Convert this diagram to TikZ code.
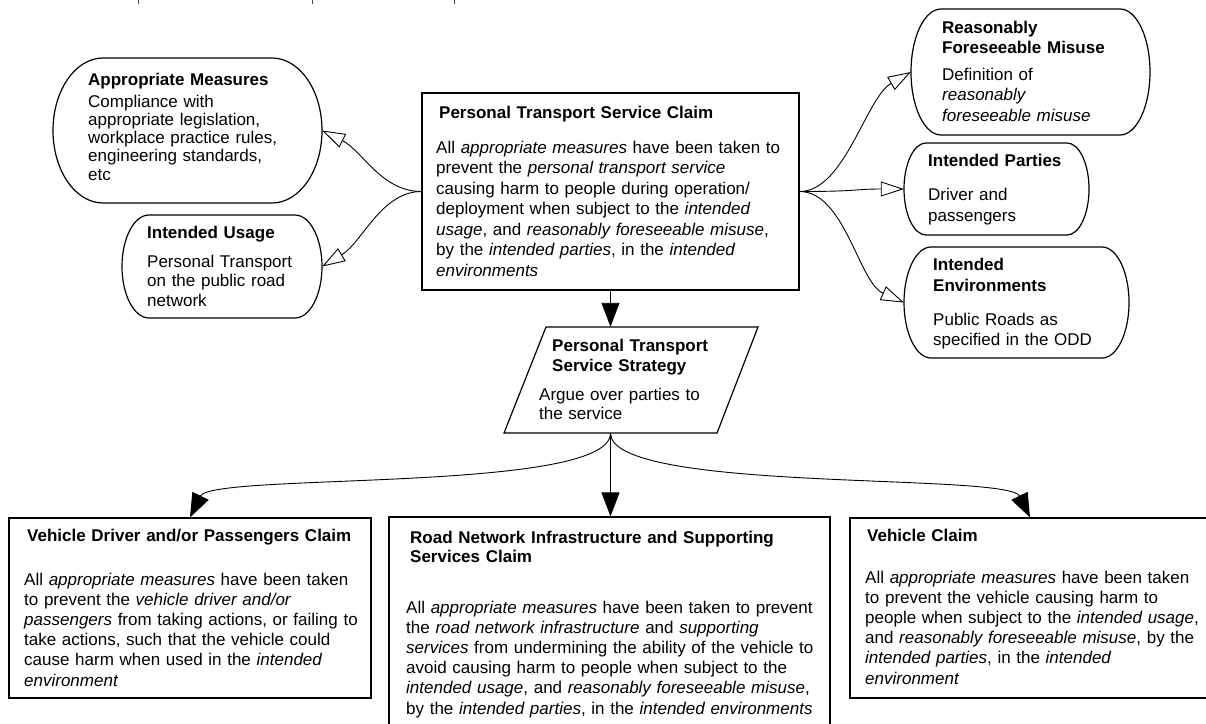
\documentclass[tikz,border=0pt]{standalone}
\usepackage{fontspec}
\setmainfont{Liberation Sans}
\usetikzlibrary{arrows.meta,fit}

% context element: invisible frame node plus a rounded-end outline
% #1 name, #2 left, #3 top, #4 right, #5 bottom, #6 horizontal bulge of the ends
\newcommand\ctxnode[6]{%
  \node[ctxzone, fit={(#2,#3) (#4,#5)}] (#1) {};
  \draw[shapeline] ({#2+#6},#3) -- ({#4-#6},#3)
    arc[start angle=-90, end angle=90, x radius=#6, y radius={(#5-#3)/2}]
    -- ({#2+#6},#5)
    arc[start angle=90, end angle=270, x radius=#6, y radius={(#5-#3)/2}]
    -- cycle;}

\begin{document}
\begin{tikzpicture}[x=1pt, y=-1pt,
  gbox/.style={draw, line width=1.2pt, inner sep=0pt},
  ctxzone/.style={draw=none, inner sep=0pt},
  shapeline/.style={line width=1.2pt},
  solidhead/.style={line width=0.9pt, -{Triangle[length=24pt, width=18pt]}},
  openhead/.style={line width=0.9pt, -{Triangle[open, length=23pt, width=15pt, fill=white]}},
  hdtext/.style={anchor=base west, inner sep=0pt, text width=470pt, align=left,
    font=\bfseries\fontsize{17}{20}\selectfont},
  bdtext/.style={anchor=base west, inner sep=0pt, text width=470pt, align=left,
    font=\fontsize{17}{20.2}\selectfont},
]
\fill[white] (0,0) rectangle (1206,723);
\useasboundingbox (0,0) rectangle (1206,723);

% stray ticks along the top edge
\draw[line width=0.8pt, black!70] (138,0) -- (138,3.5);
\draw[line width=0.8pt, black!70] (312,0) -- (312,3.5);
\draw[line width=0.8pt, black!70] (454,0) -- (454,3.5);

% ---- goals and strategy ----
\node[gbox, fit={(422,93) (799,290)}] (main) {};
\node[ctxzone, fit={(504,327) (758,433)}] (strat) {};
\draw[shapeline] (546,327) -- (758,327) -- (717,433) -- (504,433) -- cycle;

\node[gbox, fit={(9,518) (371,698)}] (vd) {};
\node[gbox, fit={(389,517) (830,745)}] (rn) {};
\node[gbox, fit={(850,518) (1210,698)}] (vc) {};

% ---- context elements ----
\ctxnode{am}{53}{58}{322}{203}{50}
\ctxnode{iu}{122}{215}{322}{318}{27}
\ctxnode{rfm}{911}{9}{1150}{135}{30}
\ctxnode{ip}{904}{143}{1089}{235}{22}
\ctxnode{ie}{904}{247}{1129}{358}{27}

% ---- connectors ----
\draw[openhead] (main.west) .. controls +(-40,0) and +(40,20) .. (am.east);
\draw[openhead] (main.west) .. controls +(-40,0) and +(40,-24) .. (iu.east);
\draw[openhead] (main.east) .. controls +(45,0) and +(-45,26) .. (rfm.west);
\draw[openhead] (main.east) .. controls +(60,0) and +(-50,0) .. (ip.west);
\draw[openhead] (main.east) .. controls +(45,0) and +(-45,-20) .. (ie.west);

\draw[solidhead] (main.south) -- (main.south |- strat.north);
\coordinate (sb) at (main.south |- strat.south);
\draw[solidhead] (sb) -- (sb |- rn.north);
\draw[solidhead] (sb) .. controls +(0,60) and +(22,-45) .. (vd.north);
\draw[solidhead] (sb) .. controls +(0,60) and +(-22,-45) .. (vc.north);

% ---- texts ----
\node[hdtext] (main-t) at (439,118) {Personal Transport Service Claim};
\node[bdtext, font=\fontsize{17}{20.5}\selectfont] (main-b) at (436,153) {All \textit{appropriate measures} have been taken to\\
prevent the \textit{personal transport service}\\
causing harm to people during operation/\\
deployment when subject to the \textit{intended}\\
\textit{usage}, and \textit{reasonably foreseeable misuse},\\
by the \textit{intended parties}, in the \textit{intended}\\
\textit{environments}};

\node[hdtext] (am-t) at (88,85) {Appropriate Measures};
\node[bdtext, font=\fontsize{17}{18.3}\selectfont] (am-b) at (88,107) {Compliance with\\
appropriate legislation,\\
workplace practice rules,\\
engineering standards,\\
etc};

\node[hdtext] (iu-t) at (147,238) {Intended Usage};
\node[bdtext, font=\fontsize{17}{19.5}\selectfont] (iu-b) at (147,267) {Personal Transport\\
on the public road\\
network};

\node[hdtext] (rfm-t) at (942,33) {Reasonably\\Foreseeable Misuse};
\node[bdtext, font=\fontsize{17}{20.5}\selectfont] (rfm-b) at (942,80) {Definition of\\
\textit{reasonably}\\
\textit{foreseeable misuse}};

\node[hdtext] (ip-t) at (928,166) {Intended Parties};
\node[bdtext, font=\fontsize{17}{21}\selectfont] (ip-b) at (928,200) {Driver and\\passengers};

\node[hdtext, font=\bfseries\fontsize{17}{21}\selectfont] (ie-t) at (933,270) {Intended\\Environments};
\node[bdtext] (ie-b) at (933,325) {Public Roads as\\specified in the ODD};

\node[hdtext] (strat-t) at (552,351) {Personal Transport\\Service Strategy};
\node[bdtext, font=\fontsize{17}{19}\selectfont] (strat-b) at (539,400) {Argue over parties to\\the service};

\node[hdtext] (vd-t) at (27,541) {Vehicle Driver and/or Passengers Claim};
\node[bdtext] (vd-b) at (24,585) {All \textit{appropriate measures} have been taken\\
to prevent the \textit{vehicle driver and/or}\\
\textit{passengers} from taking actions, or failing to\\
take actions, such that the vehicle could\\
cause harm when used in the \textit{intended}\\
\textit{environment}};

\node[hdtext, font=\bfseries\fontsize{17}{19}\selectfont] (rn-t) at (410,543) {Road Network Infrastructure and Supporting\\Services Claim};
\node[bdtext] (rn-b) at (406,613) {All \textit{appropriate measures} have been taken to prevent\\
the \textit{road network infrastructure} and \textit{supporting}\\
\textit{services} from undermining the ability of the vehicle to\\
avoid causing harm to people when subject to the\\
\textit{intended usage}, and \textit{reasonably foreseeable misuse},\\
by the \textit{intended parties}, in the \textit{intended environments}};

\node[hdtext] (vc-t) at (867,541) {Vehicle Claim};
\node[bdtext] (vc-b) at (865,583) {All \textit{appropriate measures} have been taken\\
to prevent the vehicle causing harm to\\
people when subject to the \textit{intended usage},\\
and \textit{reasonably foreseeable misuse}, by the\\
\textit{intended parties}, in the \textit{intended}\\
\textit{environment}};
\end{tikzpicture}
\end{document}
